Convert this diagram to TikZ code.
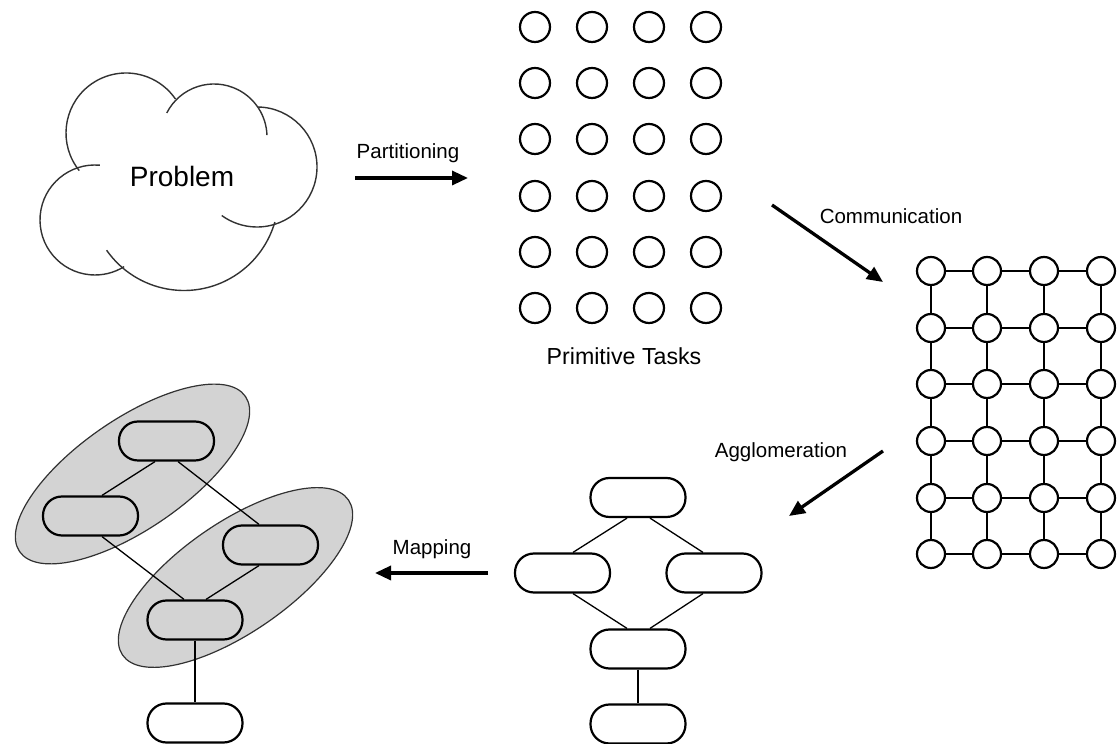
\documentclass[tikz,border=0pt]{standalone}
\usepackage{fontspec}
\setmainfont{Liberation Sans}
\usetikzlibrary{arrows.meta}
\definecolor{ellfill}{RGB}{211,211,211}
\definecolor{cloudcol}{RGB}{50,50,50}
\begin{document}
\begin{tikzpicture}[x=1pt,y=1pt,
  task/.style={circle, draw, line width=2.2pt, minimum size=30pt, inner sep=0pt},
  gnode/.style={circle, draw, line width=2.2pt, minimum size=28pt, inner sep=0pt},
  pill/.style={draw, line width=2.2pt, rounded corners=19pt, minimum width=95pt, minimum height=39pt, inner sep=0pt},
  link/.style={line width=1.3pt},
  glink/.style={line width=1.8pt},
  bigarrow/.style={line width=3.3pt, -{Triangle[length=16pt,width=14pt]}},
  lbl/.style={font=\fontsize{20.5}{24}\selectfont, anchor=base, inner sep=0pt},
  cloudline/.style={line width=1.4pt, draw=cloudcol},
  group/.style={fill=ellfill, draw=cloudcol, line width=1.2pt}]
\useasboundingbox (0,0) rectangle (1117,744);

% cloud
\draw[cloudline] ([shift={(218.8:60)}]126,611) arc[start angle=218.8, end angle=34.5, radius=60];
\draw[cloudline] ([shift={(153:53)}]214,607) arc[start angle=153, end angle=2, radius=53];
\draw[cloudline] ([shift={(89:60)}]257,577) arc[start angle=89, end angle=-126, radius=60];
\draw[cloudline] ([shift={(-145:94.5)}]184,548) arc[start angle=-145, end angle=-16, radius=94.5];
\draw[cloudline] ([shift={(85:55)}]95,524) arc[start angle=85, end angle=302, radius=55];
\node[font=\fontsize{28}{33}\selectfont, anchor=base, inner sep=0pt] (prob) at (182,557) {Problem};

% primitive tasks
\foreach \i/\x in {1/535,2/592,3/649,4/706}
  \foreach \j/\y in {1/717,2/661,3/605,4/548,5/492,6/436}
    \node[task] (t-\i-\j) at (\x,\y) {};
\node[lbl, font=\fontsize{23.2}{27}\selectfont] (lprim) at (624,379) {Primitive Tasks};

% communication grid
\foreach \i/\x in {1/931,2/987,3/1044,4/1101}
  \foreach \j/\y in {1/473,2/416,3/360,4/303,5/246,6/190}
    \node[gnode] (g-\i-\j) at (\x,\y) {};
\foreach \i in {1,2,3}
  \foreach \j in {1,...,6} {
    \pgfmathtruncatemacro{\ni}{\i+1}
    \draw[glink] (g-\i-\j) -- (g-\ni-\j);
  }
\foreach \i in {1,...,4}
  \foreach \j in {1,...,5} {
    \pgfmathtruncatemacro{\nj}{\j+1}
    \draw[glink] (g-\i-\j) -- (g-\i-\nj);
  }

% agglomeration graph
\node[pill] (aT) at (638,246.5) {};
\node[pill] (aL) at (562.5,171) {};
\node[pill] (aR) at (714,171) {};
\node[pill] (aB1) at (638,95) {};
\node[pill] (aB2) at (638,20) {};
\draw[link] ([xshift=-11pt]aT.south) -- ([xshift=10.5pt]aL.north);
\draw[link] ([xshift=12pt]aT.south) -- ([xshift=-11pt]aR.north);
\draw[link] ([xshift=10.5pt]aL.south) -- ([xshift=-11pt]aB1.north);
\draw[link] ([xshift=-11pt]aR.south) -- ([xshift=12pt]aB1.north);
\draw[link] (aB1.south) -- (aB2.north);

% mapping
\draw[group, shift={(132.5,270)}, rotate=34.5] (0,0) ellipse[x radius=137, y radius=55];
\draw[group, shift={(235.5,166.5)}, rotate=34.5] (0,0) ellipse[x radius=137, y radius=55];
\node[pill] (mT) at (166.5,303) {};
\node[pill] (mL) at (90.5,228) {};
\node[pill] (mR) at (270.5,199) {};
\node[pill] (mLo) at (195,124) {};
\node[pill] (mB) at (195,21) {};
\draw[link] ([xshift=-11.5pt]mT.south) -- ([xshift=11.5pt]mL.north);
\draw[link] ([xshift=11.5pt]mT.south) -- ([xshift=-11.5pt]mR.north);
\draw[link] ([xshift=11.5pt]mL.south) -- ([xshift=-11pt]mLo.north);
\draw[link] ([xshift=-11.5pt]mR.south) -- ([xshift=11pt]mLo.north);
\draw[link] (mLo.south) -- (mB.north);

% arrows and labels
\coordinate (pA) at (355,566); \coordinate (pB) at (468,566);
\draw[bigarrow] (pA) -- (pB);
\node[lbl] (lpart) at (408,585.7) {Partitioning};
\coordinate (cA) at (772,539); \coordinate (cB) at (883,462);
\draw[bigarrow] (cA) -- (cB);
\node[lbl] (lcomm) at (891,520) {Communication};
\coordinate (gA) at (883,293); \coordinate (gB) at (789,228);
\draw[bigarrow] (gA) -- (gB);
\node[lbl] (lagg) at (781,286) {Agglomeration};
\coordinate (mA) at (488,171); \coordinate (mBB) at (375,171);
\draw[bigarrow] (mA) -- (mBB);
\node[lbl] (lmap) at (432,189) {Mapping};
\end{tikzpicture}
\end{document}
